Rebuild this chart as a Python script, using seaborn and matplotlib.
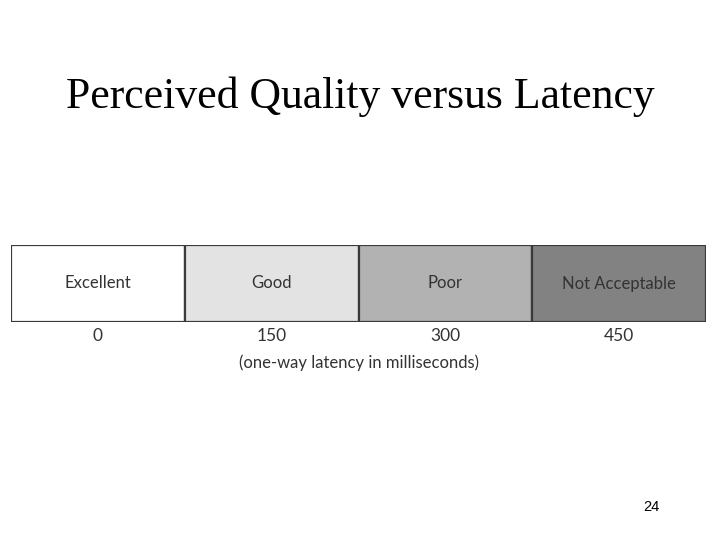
import pandas as pd
import matplotlib
matplotlib.use("Agg")
import matplotlib.pyplot as plt
import seaborn as sns

# quality bands and the latency (ms) at which each starts
quality = ['Excellent', 'Good', 'Poor', 'Not Acceptable']
latency_ms = [0, 150, 300, 450]
shades = ['#ffffff', '#e3e3e3', '#b2b2b2', '#828282']
band_height = [1, 1, 1, 1]

df = pd.DataFrame({'Quality': quality, 'Height': band_height})

sns.set_style('white')
fig = plt.figure(figsize=(7.2, 5.4), dpi=100)
ax = fig.add_axes([0.0153, 0.4037, 0.9653, 0.1426])

sns.barplot(data=df, x='Quality', y='Height', hue='Quality',
            palette=dict(zip(quality, shades)), width=1.0, legend=False,
            edgecolor='#3a3a3a', linewidth=1.6, ax=ax)

for cont, name in zip(ax.containers, quality):
    ax.bar_label(cont, labels=[name], label_type='center',
                 fontsize=12, family='Lato', color='#333333')

ax.set_xlim(-0.5, len(quality) - 0.5)
ax.set_ylim(0, 1)
ax.set_yticks([])
ax.set_xticks(range(len(quality)))
ax.set_xticklabels([str(v) for v in latency_ms], fontsize=12.5, family='Lato',
                   color='#333333')
ax.tick_params(axis='x', length=0, pad=4)
ax.set_xlabel('(one-way latency in milliseconds)', fontsize=12, family='Lato',
              color='#333333', labelpad=8)
ax.set_ylabel('')
sns.despine(ax=ax, left=True, bottom=True)

fig.text(0.5, 0.82, 'Perceived Quality versus Latency', ha='center', va='center',
         fontsize=31.5, family='Liberation Serif', color='black')
fig.text(0.904, 0.061, '24', ha='center', va='center', fontsize=10.5,
         family='Liberation Sans', color='black')

fig.savefig('out.png', dpi=100)
